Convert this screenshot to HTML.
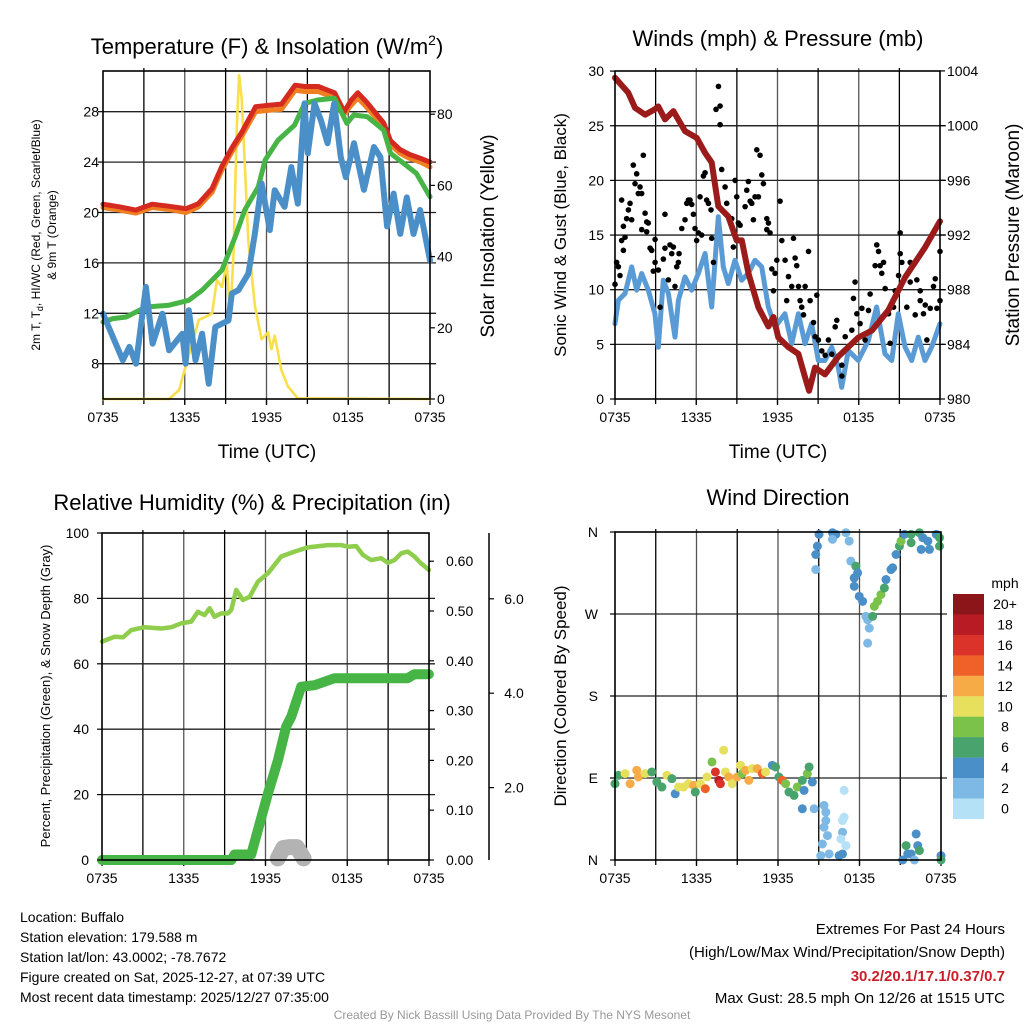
<!DOCTYPE html>
<html><head><meta charset="utf-8">
<style>
html,body{margin:0;padding:0;background:#fff;}
svg{display:block;font-family:"Liberation Sans",Arial,sans-serif;}
</style></head>
<body>
<svg id="chart" width="1024" height="1024" viewBox="0 0 1024 1024" xmlns="http://www.w3.org/2000/svg">
<rect width="1024" height="1024" fill="#fff"/>
<g id="layer"></g>
<text x="267" y="54" font-size="22" text-anchor="middle">Temperature (F) &amp; Insolation (W/m<tspan font-size="14" dy="-9">2</tspan><tspan dy="9">)</tspan></text>
<text x="778" y="46" font-size="22" text-anchor="middle">Winds (mph) &amp; Pressure (mb)</text>
<text x="252" y="510" font-size="22" text-anchor="middle">Relative Humidity (%) &amp; Precipitation (in)</text>
<text x="778" y="505" font-size="22" text-anchor="middle">Wind Direction</text>
<text x="267" y="458" font-size="19" text-anchor="middle">Time (UTC)</text>
<text x="778" y="458" font-size="19" text-anchor="middle">Time (UTC)</text>
<text transform="translate(40,235) rotate(-90)" font-size="12" text-anchor="middle">2m T, T<tspan font-size="9" dy="3">d</tspan><tspan dy="-3">, HI/WC (Red, Green, Scarlet/Blue)</tspan></text>
<text transform="translate(56,235) rotate(-90)" font-size="12" text-anchor="middle">&amp; 9m T (Orange)</text>
<text transform="translate(494,236) rotate(-90)" font-size="19" text-anchor="middle">Solar Insolation (Yellow)</text>
<text transform="translate(566,235) rotate(-90)" font-size="17" text-anchor="middle">Sonic Wind &amp; Gust (Blue, Black)</text>
<text transform="translate(1019,235) rotate(-90)" font-size="19" text-anchor="middle">Station Pressure (Maroon)</text>
<text transform="translate(50,696) rotate(-90)" font-size="13" text-anchor="middle">Percent, Precipitation (Green), &amp; Snow Depth (Gray)</text>
<text transform="translate(566,696) rotate(-90)" font-size="17" text-anchor="middle">Direction (Colored By Speed)</text>
<g font-size="14">
<text x="20" y="922">Location: Buffalo</text>
<text x="20" y="942">Station elevation: 179.588 m</text>
<text x="20" y="962">Station lat/lon: 43.0002; -78.7672</text>
<text x="20" y="982">Figure created on Sat, 2025-12-27, at 07:39 UTC</text>
<text x="20" y="1002">Most recent data timestamp: 2025/12/27 07:35:00</text>
</g>
<g font-size="15" text-anchor="end">
<text x="1005" y="934">Extremes For Past 24 Hours</text>
<text x="1005" y="957">(High/Low/Max Wind/Precipitation/Snow Depth)</text>
<text x="1005" y="981" fill="#c8202a" font-weight="bold">30.2/20.1/17.1/0.37/0.7</text>
<text x="1005" y="1003">Max Gust: 28.5 mph On 12/26 at 1515 UTC</text>
</g>
<text x="512" y="1019" font-size="12" fill="#999" text-anchor="middle">Created By Nick Bassill Using Data Provided By The NYS Mesonet</text>
</svg>
<script>
// ---------- data ----------
const timeLabels = ["0735","1335","1935","0135","0735"];
const tempTicks = [8,12,16,20,24,28];
const insolTicks = [0,20,40,60,80];
const windTicks = [0,5,10,15,20,25,30];
const presTicks = [980,984,988,992,996,1000,1004];
const rhTicks = [0,20,40,60,80,100];
const precipTicks = [0,0.1,0.2,0.3,0.4,0.5,0.6];
const snowTicks = [2,4,6];
const dirLabels = ["N","E","S","W","N"];

const redT = [0,1.2,2.4,3.6,4.8,6.1,7.0,8.0,8.7,9.5,10.2,11.2,12.1,13.1,14.1,14.8,15.8,17.0,17.7,18.2,18.7,19.4,20.6,21.1,21.8,22.5,23.3,24];
const redV = [20.66,20.45,20.19,20.66,20.5,20.3,20.7,21.9,23.6,25.2,26.4,28.4,28.5,28.6,30.1,30.0,30.0,29.5,28.0,28.9,29.5,28.7,27.1,25.7,25.0,24.6,24.3,24.0];
const orangeV = [20.4,20.2,19.95,20.4,20.25,20.0,20.45,21.6,23.3,24.9,26.1,28.0,28.1,28.2,29.7,29.6,29.6,29.1,27.8,28.5,29.1,28.3,26.8,25.4,24.7,24.3,24.0,23.6];
const greenT = [0,0.73,1.7,3.15,4.85,6.3,7.27,8.73,9.7,10.4,11.4,11.9,12.85,14.06,14.8,15.75,17.0,17.9,18.4,19.4,20.6,21.1,22.06,23.0,24];
const greenV = [11.31,11.58,11.71,12.5,12.64,13.03,13.83,15.42,18.07,20.19,22.04,24.16,25.75,26.94,28.66,28.93,29.06,27.07,27.74,27.6,26.54,24.7,23.9,23.1,21.25];
const blueT = [0,0.73,1.45,1.94,2.42,3.15,3.64,4.36,4.85,5.82,6.06,6.3,6.79,7.27,7.76,8.24,9.21,9.45,9.94,10.67,11.15,11.64,12.24,12.6,13.33,13.82,14.3,14.79,15.03,15.52,16.0,16.48,16.97,17.45,17.82,18.42,19.15,19.88,20.36,20.85,21.33,21.82,22.3,22.79,23.27,24];
const blueV = [11.97,10.12,8.27,9.33,8.0,14.09,9.59,11.97,9.06,10.38,8.0,12.24,8.27,10.38,6.41,10.91,11.44,13.56,13.83,15.15,18.33,22.3,18.6,21.77,20.45,23.6,20.7,28.66,24.7,28.66,27.3,25.5,28.66,24.4,22.8,25.5,21.8,25.2,24.4,18.9,21.5,18.3,21.2,18.3,20.2,16.2];
const insolT = [0,4.85,5.58,6.06,6.55,7.03,7.52,8.0,8.36,8.73,9.09,9.33,9.58,9.82,9.99,10.18,10.42,10.67,11.15,11.64,12.12,12.36,12.6,13.09,13.58,14.3,24];
const insolV = [0,0,2.5,9.1,15.6,22.2,23.1,24.0,33.4,31.5,38.0,22.2,40.7,76.5,91.0,84.3,64.6,44.0,26.2,16.8,18.7,14.0,17.8,8.1,3.5,0.2,0];

const presT = [0,0.98,1.48,2.22,2.95,3.2,3.69,4.31,5.17,6.03,6.65,7.14,7.63,8.37,8.99,9.36,9.85,10.59,11.33,11.7,12.06,12.8,13.54,14.03,14.33,14.77,15.51,16.49,17.97,18.96,20.19,21.42,22.9,24];
const presV = [1003.5,1002.4,1001.3,1000.8,1001.2,1001.4,1000.45,1001.06,999.6,999.1,998.0,997.3,994.1,993.35,991.6,991.6,989.2,986.7,985.3,986.0,984.5,983.8,983.3,981.6,980.6,982.3,981.8,983.1,984.5,985.0,986.5,988.9,991.1,993.0];
const windT = [0,0.25,0.74,1.23,1.6,1.97,2.46,2.95,3.2,3.57,3.94,4.43,4.68,5.17,5.66,6.15,6.65,7.14,7.63,8.0,8.37,8.86,9.35,9.84,10.34,10.83,11.32,11.82,12.55,13.05,13.54,14.03,14.52,15.02,15.51,16.0,16.49,16.74,17.23,17.97,18.71,19.32,19.94,20.43,20.92,21.42,21.91,22.4,22.89,23.38,24];
const windV = [6.89,9.03,9.64,12.09,9.95,11.48,9.95,7.8,4.74,10.87,9.64,5.66,9.03,11.17,9.95,11.48,13.31,8.42,16.68,12.09,10.56,12.7,10.87,11.48,12.7,12.09,8.42,6.58,7.8,5.05,7.8,5.05,6.89,3.52,3.52,4.74,2.91,1.07,4.44,3.52,5.36,8.42,4.13,3.52,7.8,4.74,3.52,5.66,3.52,4.74,6.89];
const gustT = [0,0.12,0.25,0.37,0.49,0.62,0.62,0.74,0.49,0.86,0.99,1.11,1.23,1.35,1.6,1.48,1.72,1.85,1.97,2.09,2.22,2.34,2.46,1.97,2.34,2.59,2.71,2.96,2.96,2.83,3.2,3.33,3.57,3.69,3.69,3.94,4.06,4.19,4.31,4.43,4.56,4.68,4.73,4.93,5.17,5.3,5.42,5.54,5.67,5.79,5.91,6.03,6.16,6.28,6.4,6.53,6.65,6.77,6.9,7.09,7.14,7.27,7.46,7.76,7.64,7.76,7.88,8.13,8.25,8.62,8.74,8.87,8.99,9.11,9.24,9.36,9.61,9.73,9.85,9.98,10.1,10.22,10.34,10.47,10.59,10.71,10.84,10.96,11.21,11.33,11.21,11.45,11.58,11.82,11.7,11.95,12.19,12.32,12.56,12.68,12.81,13.05,13.18,13.3,13.42,13.55,13.67,13.79,13.92,14.04,14.29,14.41,14.66,14.78,14.9,15.02,15.27,15.52,15.76,16.01,16.26,16.38,16.75,16.75,17.0,17.49,17.61,17.73,17.86,18.1,18.23,18.47,18.72,18.84,19.21,19.33,19.46,19.58,19.7,19.83,19.95,20.2,20.32,20.57,20.69,20.94,21.06,21.06,21.18,21.55,21.8,21.8,22.17,22.29,22.54,22.54,22.78,22.91,23.03,23.28,23.52,23.65,23.77,24.0,24.0];
const gustV = [10.5,12.5,12.1,11.3,14.5,13.6,15.8,14.8,18.2,16.5,17.3,17.9,16.4,21.4,20.6,19.7,18.8,19.4,18.8,22.3,17.0,16.2,16.1,15.5,15.3,13.8,13.6,14.6,12.5,11.7,11.8,8.4,12.8,13.8,16.9,10.9,14.1,13.3,13.9,10.3,12.1,12.5,13.3,15.6,16.4,17.9,18.2,18.2,17.8,16.9,15.6,14.5,15.2,18.5,15.0,20.4,20.7,18.2,17.9,17.3,14.7,12.5,26.5,26.8,28.6,25.1,21.0,19.4,17.9,16.5,13.9,20.0,18.5,16.1,15.9,14.4,17.6,19.1,19.9,18.1,17.9,16.4,18.5,22.8,18.5,22.3,20.5,19.7,16.5,16.1,15.5,15.2,11.9,11.5,9.9,12.7,18.1,14.5,12.7,9.0,11.2,10.3,14.7,12.9,12.2,10.3,9.0,8.4,7.7,10.3,13.5,9.0,7.0,5.7,9.5,5.4,4.4,4.0,5.4,4.1,6.6,7.2,3.1,2.1,5.7,6.3,9.2,10.7,7.8,6.9,8.3,5.4,8.1,9.6,12.2,14.1,13.5,12.2,11.5,12.5,10.1,7.8,5.1,8.4,9.9,11.3,15.2,13.3,12.5,8.4,10.7,12.5,7.7,10.9,9.9,9.0,7.8,8.6,5.4,8.3,10.3,11.0,8.3,13.5,9.0];

const rhT = [0,0.93,1.54,2.15,3.13,4.35,5.09,5.82,6.55,7.04,7.53,7.9,8.26,8.75,9.24,9.49,9.85,10.34,10.83,11.44,12.18,13.15,14.13,15.11,16.58,17.56,18.04,18.66,19.15,19.76,20.49,20.98,21.47,21.96,22.44,22.93,23.42,23.99];
const rhV = [66.8,68.3,68.1,70.3,71.2,70.8,71.2,72.4,72.9,75.9,74.9,77.0,74.4,75.4,75.4,76.5,82.6,79.5,80.5,85.1,87.7,92.8,94.3,95.6,96.3,96.3,95.8,96.0,93.3,91.7,92.3,90.9,91.7,93.8,94.3,92.8,90.7,88.7];
const precipT = [0,9.49,9.73,10.95,11.44,12.18,12.91,13.52,13.89,14.62,15.6,17.07,22.44,22.93,23.99];
const precipV = [0,0,0.011,0.011,0.06,0.134,0.2,0.268,0.288,0.348,0.351,0.365,0.365,0.373,0.373];
const snowT = [12.9,13.3,13.8,14.3,14.8];
const snowV = [0.5,0.72,0.74,0.74,0.5];

const dirT = [0,0.25,0.74,1.11,1.6,1.72,2.22,2.71,3.08,3.45,3.82,4.19,4.43,4.68,5.05,5.42,5.79,5.91,6.28,6.65,6.77,7.14,7.39,7.64,7.76,8.0,8.13,8.37,8.62,8.99,9.24,9.36,9.61,9.85,10.1,10.47,10.84,11.08,11.58,11.82,12.07,12.32,12.56,12.81,13.18,13.42,13.79,14.16,14.29,14.53,13.92,13.79,14.66,15.39,15.52,15.52,15.39,15.64,15.27,15.15,15.76,16.5,16.75,16.75,16.63,16.87,16.75,17.0,16.87,15.02,14.9,14.78,14.78,16.01,16.26,16.01,17.0,17.24,17.36,17.73,17.86,17.61,17.61,17.98,18.23,18.47,18.6,18.72,18.6,18.97,19.09,19.33,19.58,19.83,19.95,20.32,20.44,20.69,20.94,21.06,21.31,21.8,21.8,22.41,22.66,22.54,23.03,23.15,23.65,23.89,23.89,21.18,21.43,21.55,21.8,22.17,22.29,22.41,22.04,24.0,24.0];
const dirV = [83.7,92.9,94.8,83.7,98.4,91.1,94.8,96.6,85.6,80.1,92.9,89.3,72.7,80.1,80.1,83.7,81.9,74.6,83.7,78.2,91.1,107.6,96.6,87.4,83.7,120.5,96.6,91.1,83.7,91.1,103.9,94.8,98.4,87.4,100.3,100.3,94.8,96.6,103.9,102.1,91.1,87.4,83.7,74.6,70.9,80.1,87.4,94.8,102.1,85.6,76.4,56.2,56.2,59.9,52.5,43.3,36.0,26.8,17.6,4.8,6.6,4.8,6.6,30.5,23.1,47.0,43.3,15.8,76.4,357.4,344.5,335.3,318.8,359.2,357.4,351.9,359.2,350.0,328.0,322.5,315.1,309.6,300.4,289.4,283.9,267.4,263.7,254.5,238.0,267.4,278.4,283.9,291.3,298.6,307.8,318.8,320.7,335.3,344.5,350.0,357.4,357.4,348.2,359.2,353.7,340.9,350.0,340.9,357.4,353.7,344.5,0,15.8,6.6,6.6,28.6,15.8,10.3,0,4.8,0];
const dirSpd = [6,7,10,12,12,13,11,7,6,7,10,7,4,11,10,11,13,6,11,14,10,8,16,18,17,11,10,13,10,12,10,9,13,12,10,13,14,11,5,6,7,14,8,6,6,8,7,8,7,5,5,5,3,3,3,3,3,3,3,3,3,4,4,3,1,1,1,1,1,4,4,4,2,4,4,3,2,2,2,6,4,4,4,4,4,3,3,3,2,6,8,8,8,6,4,4,4,4,6,8,4,6,6,6,4,4,4,4,4,6,6,4,6,4,4,4,4,6,3,4,6];
const speedBins = ["0","2","4","6","8","10","12","14","16","18","20+"];
const speedColors = ["#b5e1f7","#7db9e4","#4a8fc7","#48a36c","#7bc24b","#e6e05c","#f6ab46","#ef6128","#db3329","#b81b24","#8c1519"];

// ---------- drawing ----------
const NS="http://www.w3.org/2000/svg";
const layer=document.getElementById('layer');
function mk(tag,attrs,parent){const e=document.createElementNS(NS,tag);for(const k in attrs)e.setAttribute(k,attrs[k]);(parent||layer).appendChild(e);return e;}
function txt(x,y,s,size,anchor,parent){const t=mk('text',{x:x,y:y,'font-size':size,'text-anchor':anchor},parent);t.textContent=s;return t;}

function panel(x0,x1,y0,y1){
  return {x0,x1,y0,y1,xs:t=>x0+t/24*(x1-x0)};
}
const P1=panel(103,430,71,399), P2=panel(615,940,71,399), P3=panel(102,429,533,860), P4=panel(615,941,532,860);
const yTemp=v=>111.7+(28-v)*12.6, yIns=v=>399-v*3.56;
const yWind=v=>399-v*10.93, yPres=v=>399-(v-980)*13.67;
const yRH=v=>860-v*3.27, yPre=v=>860-v*498, ySnow=v=>882-v*47.2;
const yDir=v=>860-v/360*328;

function frame(P,name,hLines){
  const g=mk('g',{});
  
  
  for(let k=1;k<8;k++){const x=P.x0+k*(P.x1-P.x0)/8;mk('line',{x1:x,x2:x,y1:P.y0-3,y2:P.y1+5,stroke:k%2?'#000':'#555','stroke-width':1.3},g);}
  hLines.forEach(y=>mk('line',{x1:P.x0,x2:P.x1+6,y1:y,y2:y,stroke:'#222','stroke-width':1.3},g));
  const xl=mk('g',{});
  
  
  timeLabels.forEach((s,i)=>{const x=P.x0+i*(P.x1-P.x0)/4;mk('line',{x1:x,x2:x,y1:P.y1,y2:P.y1+6,stroke:'#000','stroke-width':1.3},xl);txt(x,P.y1+23,s,14,'middle',xl);});
}
function border(P,name){
  const r=mk('rect',{x:P.x0,y:P.y0,width:P.x1-P.x0,height:P.y1-P.y0,fill:'none',stroke:'#000','stroke-width':1.6});
  
  
}
function line(P,T,V,yf,color,w,name){
  const d=T.map((t,i)=>(i?'L':'M')+P.xs(t).toFixed(1)+','+yf(V[i]).toFixed(1)).join('');
  const p=mk('path',{d:d,fill:'none',stroke:color,'stroke-width':w,'stroke-linejoin':'round','stroke-linecap':'round'});
  
  
}
function yLabels(vals,yf,x,anchor,fmt,name,tickX,tickDir){
  const g=mk('g',{});
  
  
  vals.forEach(v=>{const y=yf(v);txt(x,y+5,fmt(v),14,anchor,g);if(tickX!=null)mk('line',{x1:tickX,x2:tickX+tickDir,y1:y,y2:y,stroke:'#000','stroke-width':1.2},g);});
}

// Panel 1
frame(P1,'temperature',tempTicks.map(yTemp));
line(P1,insolT,insolV,yIns,'#f9e04b',2.6,'insolation-line');
line(P1,redT,orangeV,yTemp,'#f07f22',5,'temp-9m-line');
line(P1,redT,redV,yTemp,'#d42a20',5,'temp-2m-line');
line(P1,greenT,greenV,yTemp,'#46b545',5,'dewpoint-line');
line(P1,blueT,blueV,yTemp,'#4a8fc8',6,'windchill-line');
border(P1,'temperature');
yLabels(tempTicks,yTemp,99,'end',v=>v,'temperature-y-tick-labels',P1.x0,-5);
yLabels(insolTicks,yIns,437,'start',v=>v,'insolation-y-tick-labels',P1.x1,5);

// Panel 2
frame(P2,'winds',windTicks.slice(1,6).map(yWind));
mk('line',{x1:P2.x0,x2:P2.x1,y1:yWind(25),y2:yWind(25),stroke:'#222','stroke-width':1.3});
line(P2,windT,windV,yWind,'#5b9bd5',5,'sonic-wind-line');
gustT.forEach((t,i)=>{const c=mk('circle',{cx:P2.xs(t),cy:yWind(gustV[i]),r:2.8,fill:'#000'});
  
  });
line(P2,presT,presV,yPres,'#9b1b1b',6,'pressure-line');
border(P2,'winds');
yLabels(windTicks,yWind,604,'end',v=>v,'wind-y-tick-labels',P2.x0,-5);
yLabels(presTicks,yPres,947,'start',v=>v,'pressure-y-tick-labels',P2.x1,5);

// Panel 3
frame(P3,'humidity',rhTicks.slice(1,5).map(yRH));
line(P3,rhT,rhV,yRH,'#8fcd4d',4.5,'relative-humidity-line');
line(P3,snowT,snowV,ySnow,'#b3b3b3',16,'snow-depth-line');
line(P3,precipT,precipV,yPre,'#46b545',10,'precipitation-line');
border(P3,'humidity');
yLabels(rhTicks,yRH,89,'end',v=>v,'humidity-y-tick-labels',P3.x0,-5);
yLabels(precipTicks,yPre,446,'start',v=>v.toFixed(2),'precip-y-tick-labels',P3.x1,5);
const sAx=mk('line',{x1:489,x2:489,y1:533,y2:860,stroke:'#000','stroke-width':1.5});


yLabels(snowTicks,ySnow,514,'middle',v=>v.toFixed(1),'snow-y-tick-labels',489,5);

// Panel 4
frame(P4,'direction',[90,180,270].map(yDir));
dirT.forEach((t,i)=>{const b=Math.min(10,Math.floor(dirSpd[i]/2));const c=mk('circle',{cx:P4.xs(t),cy:yDir(dirV[i]),r:4.5,fill:speedColors[b]});
  
  });
border(P4,'direction');
yLabels([0,90,180,270,360],yDir,598,'end',v=>dirLabels[v/90],'direction-y-tick-labels',P4.x0,-5);

// colorbar
const cb=mk('g',{});


txt(1005,588,'mph',14,'middle',cb);
speedBins.forEach((s,i)=>{const k=10-i;const y=594+i*20.45;mk('rect',{x:953,y:y,width:31,height:20.6,fill:speedColors[k]},cb);txt(1005,y+15,speedBins[k],14,'middle',cb);});
</script>
</body></html>
